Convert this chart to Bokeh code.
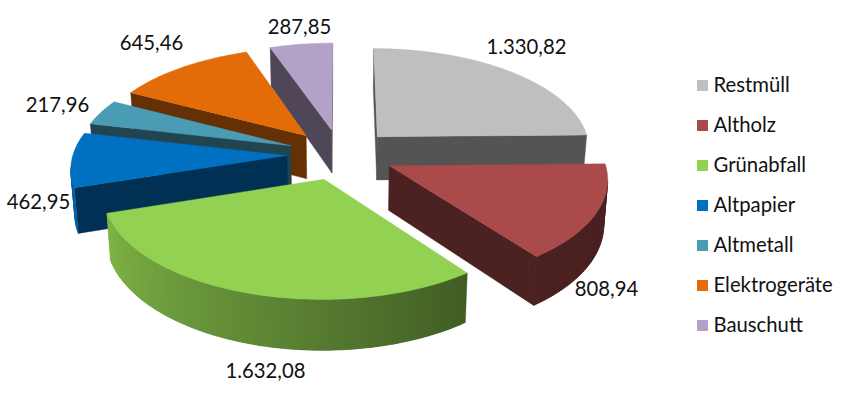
import math
from bokeh.core.properties import value
from bokeh.embed import file_html
from bokeh.models import ColumnDataSource
from bokeh.plotting import figure
from bokeh.resources import INLINE

categories = ["Restmüll", "Altholz", "Grünabfall", "Altpapier", "Altmetall", "Elektrogeräte", "Bauschutt"]
amounts = [1330.82, 808.94, 1632.08, 462.95, 217.96, 645.46, 287.85]
colors = ["#BFBFBF", "#AB4A4A", "#93D152", "#0070C0", "#4A9CB5", "#E36C09", "#B3A2C7"]

# layout of the projected pie (page pixels)
CX, CY, RX, RY, PERSP, DEPTH, EXPLODE, TAPER = 340.0, 154.0, 214.0, 101.4, 0.108, 44.0, 0.25, 0.985
WALL = 0.44
DRAW_ORDER = [0, 6, 5, 4, 3, 1, 2]
LABEL_POS = [(526, 46), (606, 288), (265, 370), (38, 201), (57, 104), (151, 42), (299, 26)]
LEGEND_X, LEGEND_Y, LEGEND_STEP = 702, 85, 40


def top(wx, wy):
    s = 1 / (1 - PERSP * wy)
    return CX + RX * wx * s, CY + RY * wy * s


def bottom(wx, wy):
    s = 1 / (1 - PERSP * wy)
    x, y = top(wx, wy)
    return CX + (x - CX) * TAPER, y + DEPTH * s


def shade(color, f):
    r, g, b = (int(color[i:i + 2], 16) for i in (1, 3, 5))
    return "#%02x%02x%02x" % (round(r * f), round(g * f), round(b * f))


def rim_factor(deg):
    t = min(1.0, max(0.0, (deg - 143) / (252 - 143)))
    return WALL + (0.87 - WALL) * t


def german(v):
    return f"{v:,.2f}".replace(",", "#").replace(".", ",").replace("#", ".")


total = sum(amounts)
starts, a = [], 0.0
for v in amounts:
    starts.append(a)
    a += v / total * 360

xs, ys, fills = [], [], []


def add(pts, color):
    xs.append([q[0] for q in pts])
    ys.append([q[1] for q in pts])
    fills.append(color)


for i in DRAW_ORDER:
    a0 = starts[i]
    a1 = a0 + amounts[i] / total * 360
    mid = math.radians((a0 + a1) / 2)
    ax, ay = EXPLODE * math.sin(mid), -EXPLODE * math.cos(mid)
    n = max(4, int((a1 - a0) / 1.0))
    deg = [a0 + (a1 - a0) * j / n for j in range(n + 1)]
    world = [(ax + math.sin(math.radians(d)), ay - math.cos(math.radians(d))) for d in deg]
    wall = shade(colors[i], WALL)
    # radial walls, when they face the viewer
    for p, q in (((ax, ay), world[0]), (world[-1], (ax, ay))):
        if top(*q)[0] < top(*p)[0]:
            add([top(*p), top(*q), bottom(*q), bottom(*p)], wall)
    # outer wall: strips that overlap the next one, so that no seams show
    for j in range(n):
        if top(*world[j + 1])[0] < top(*world[j])[0]:
            k = min(j + 2, n)
            add([top(*world[j]), top(*world[j + 1]), top(*world[k]),
                 bottom(*world[k]), bottom(*world[j + 1]), bottom(*world[j])],
                shade(colors[i], rim_factor((deg[j] + deg[j + 1]) / 2)))
    # upper face
    add([top(ax, ay)] + [top(*w) for w in world], colors[i])

p = figure(width=840, height=386, x_range=(0, 840), y_range=(386, 0), toolbar_location=None,
           output_backend="svg", min_border=0, outline_line_color=None, background_fill_color="white")
p.axis.visible = False
p.grid.visible = False

p.patches("xs", "ys", source=ColumnDataSource(dict(xs=xs, ys=ys, c=fills)),
          fill_color="c", line_color="c", line_width=0.4)

p.text([q[0] for q in LABEL_POS], [q[1] for q in LABEL_POS], text=[german(v) for v in amounts],
       text_font=value("Lato"), text_font_size="20.3px", text_color="#111111",
       text_align="center", text_baseline="middle")

ly = [LEGEND_Y + LEGEND_STEP * i for i in range(len(categories))]
p.rect([LEGEND_X] * len(categories), ly, width=11, height=11, fill_color=colors, line_color=None)
p.text([LEGEND_X + 11] * len(categories), [y - 1.5 for y in ly], text=categories,
       text_font=value("Lato"), text_font_size="20.3px", text_color="#111111",
       text_align="left", text_baseline="middle")

open("out.html", "w").write(file_html(p, INLINE))
